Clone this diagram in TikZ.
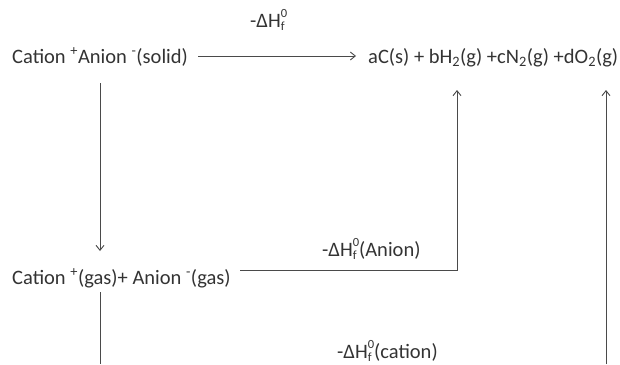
\documentclass[tikz,border=0pt]{standalone}
\usepackage{fontspec}
\setmainfont{Carlito}
\usetikzlibrary{arrows.meta}
\definecolor{txt}{HTML}{333333}
\definecolor{ln}{HTML}{4A4A4A}
\newcommand{\smallfnt}{\fontsize{12.5}{13}\selectfont}
\newcommand{\dH}{-ΔH\rlap{\raisebox{-0.35ex}{\smallfnt f}}\raisebox{0.95ex}{\smallfnt 0}}
\begin{document}
\begin{tikzpicture}[x=1pt,y=-1pt,
  lbl/.style={text=txt,font=\fontsize{20.5}{24}\selectfont,inner sep=0pt,anchor=base west},
  conn/.style={draw=ln,line width=0.9pt},
  arr/.style={conn,-{Straight Barb[length=5pt,width=8pt]}}]
\useasboundingbox (0,0) rectangle (620,364);
\node[lbl] (solid) at (12,63.5) {Cation \textsuperscript{+}Anion \textsuperscript{-}(solid)};
\node[lbl] (prod) at (368,63.5) {aC(s) + bH\textsubscript{2}(g) +cN\textsubscript{2}(g) +dO\textsubscript{2}(g)};
\node[lbl] (dh) at (250,27) {\dH};
\node[lbl] (gas) at (12,284) {Cation \textsuperscript{+}(gas)+ Anion \textsuperscript{-}(gas)};
\node[lbl] (dha) at (322,256) {\dH(Anion)};
\node[lbl] (dhc) at (337,358) {\dH(cation)};
\coordinate (s1) at (198,56);
\coordinate (s2) at (356,56);
\coordinate (v1) at (100,83);
\coordinate (v2) at (100,251);
\coordinate (v3) at (100,292);
\coordinate (v4) at (100,364);
\coordinate (a1) at (240,270);
\coordinate (a2) at (457,270);
\coordinate (a3) at (457,90);
\coordinate (c1) at (606,364);
\coordinate (c2) at (606,90);
\draw[arr] (s1) -- (s2);
\draw[arr] (v1) -- (v2);
\draw[conn] (v3) -- (v4);
\draw[arr] (a1) -- (a2) -- (a3);
\draw[arr] (c1) -- (c2);
\end{tikzpicture}
\end{document}
